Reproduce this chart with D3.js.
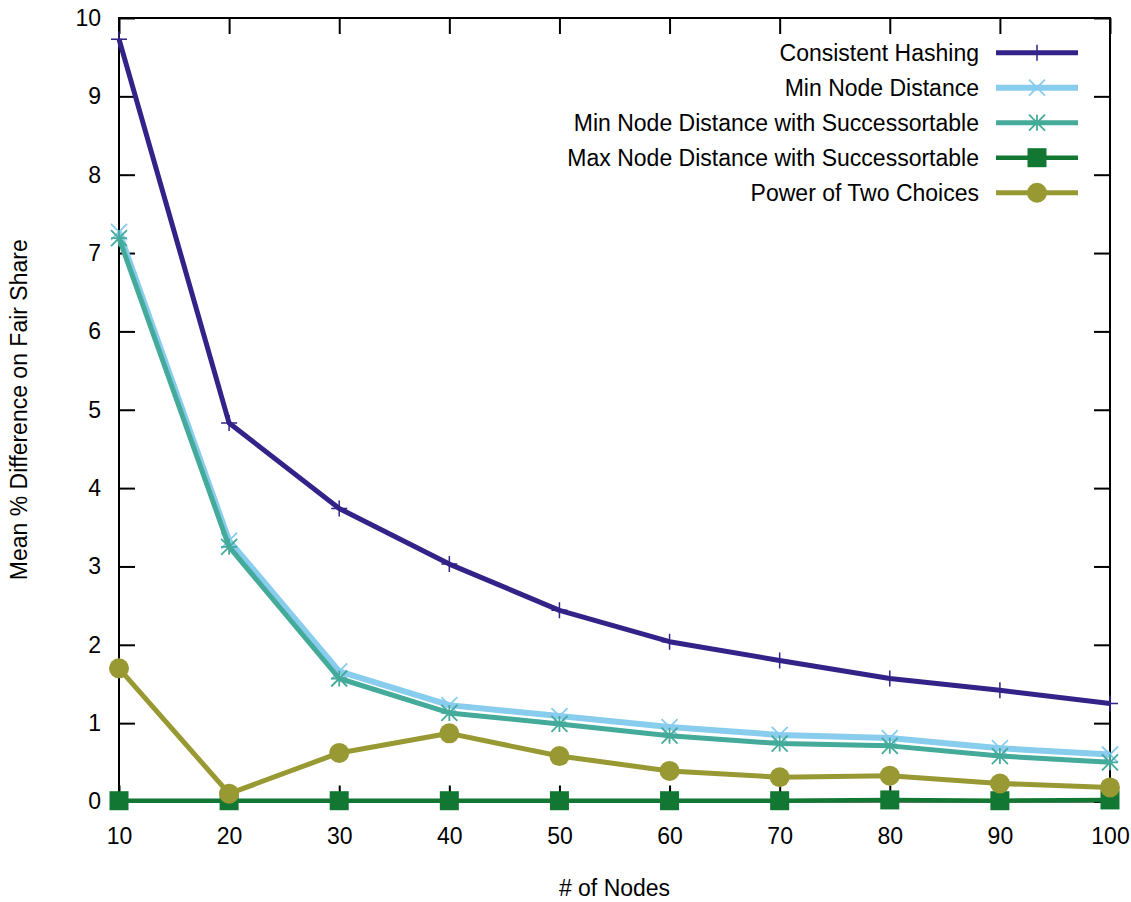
<html>
<head>
<script src="https://d3js.org/d3.v7.min.js"></script>
<style>
body { margin: 0; background: white; }
text { font-family: "Liberation Sans", Arial, sans-serif; font-size: 23px; fill: #000; }
</style>
</head>
<body>
<svg width="1131" height="902"></svg>
<script>
// data
const nodes = [10, 20, 30, 40, 50, 60, 70, 80, 90, 100];
const consistentHashing = [9.73, 4.83, 3.74, 3.03, 2.44, 2.04, 1.80, 1.57, 1.42, 1.25];
const minNodeDistance = [7.27, 3.33, 1.66, 1.23, 1.09, 0.95, 0.85, 0.81, 0.68, 0.60];
const minNodeSucc = [7.19, 3.25, 1.57, 1.13, 0.99, 0.84, 0.74, 0.71, 0.58, 0.50];
const maxNodeSucc = [0.01, 0.01, 0.01, 0.01, 0.01, 0.01, 0.01, 0.02, 0.01, 0.02];
const powerOfTwo = [1.70, 0.10, 0.62, 0.87, 0.58, 0.39, 0.31, 0.33, 0.23, 0.18];
const yTicks = [0, 1, 2, 3, 4, 5, 6, 7, 8, 9, 10];

const series = [
  {name: "Consistent Hashing", values: consistentHashing, color: "#332288", marker: "plus", width: 5},
  {name: "Min Node Distance", values: minNodeDistance, color: "#88ccee", marker: "cross", width: 6},
  {name: "Min Node Distance with Successortable", values: minNodeSucc, color: "#44aa99", marker: "star", width: 5},
  {name: "Max Node Distance with Successortable", values: maxNodeSucc, color: "#117733", marker: "square", width: 4.5},
  {name: "Power of Two Choices", values: powerOfTwo, color: "#999933", marker: "circle", width: 5}
];

const plotLeft = 119, plotRight = 1110, plotTop = 18, plotBottom = 801.5;
const svg = d3.select("svg");
const x = d3.scaleLinear().domain([10, 100]).range([plotLeft, plotRight]);
const y = d3.scaleLinear().domain([0, 10]).range([plotBottom, plotTop]);

// axes with inward ticks, mirrored
function styleAxis(g) {
  g.select(".domain").remove();
  g.selectAll(".tick line").attr("stroke", "#000").attr("stroke-width", 2);
  g.selectAll(".tick text").style("font-size", "23px");
}
svg.append("g").attr("transform", "translate(" + plotLeft + ",0)")
  .call(d3.axisLeft(y).tickValues(yTicks).tickSizeInner(-16).tickPadding(18).tickFormat(d3.format("d")))
  .call(styleAxis);
svg.append("g").attr("transform", "translate(" + plotRight + ",0)")
  .call(d3.axisRight(y).tickValues(yTicks).tickSizeInner(-16).tickFormat(""))
  .call(styleAxis);
svg.append("g").attr("transform", "translate(0," + plotBottom + ")")
  .call(d3.axisBottom(x).tickValues(nodes).tickSizeInner(-16).tickPadding(26).tickFormat(d3.format("d")))
  .call(styleAxis);
svg.append("g").attr("transform", "translate(0," + plotTop + ")")
  .call(d3.axisTop(x).tickValues(nodes).tickSizeInner(-16).tickFormat(""))
  .call(styleAxis);

svg.append("rect")
  .attr("x", plotLeft).attr("y", plotTop)
  .attr("width", plotRight - plotLeft).attr("height", plotBottom - plotTop)
  .attr("fill", "none").attr("stroke", "#000").attr("stroke-width", 2);

svg.append("text").attr("x", (plotLeft + plotRight) / 2).attr("y", 896)
  .attr("text-anchor", "middle").text("# of Nodes");
svg.append("text")
  .attr("transform", "translate(27," + ((plotTop + plotBottom) / 2) + ") rotate(-90)")
  .attr("text-anchor", "middle").text("Mean % Difference on Fair Share");

function drawMarker(g, type, cx, cy, color) {
  const s = 8;
  if (type === "plus") {
    g.append("path").attr("d", "M" + (cx - s) + "," + cy + "H" + (cx + s) + "M" + cx + "," + (cy - s) + "V" + (cy + s))
      .attr("stroke", color).attr("stroke-width", 1.5).attr("fill", "none");
  } else if (type === "cross") {
    g.append("path").attr("d", "M" + (cx - s) + "," + (cy - s) + "L" + (cx + s) + "," + (cy + s) + "M" + (cx - s) + "," + (cy + s) + "L" + (cx + s) + "," + (cy - s))
      .attr("stroke", color).attr("stroke-width", 1.8).attr("fill", "none");
  } else if (type === "star") {
    g.append("path").attr("d", "M" + (cx - s) + "," + cy + "H" + (cx + s) + "M" + cx + "," + (cy - s) + "V" + (cy + s) +
        "M" + (cx - s) + "," + (cy - s) + "L" + (cx + s) + "," + (cy + s) + "M" + (cx - s) + "," + (cy + s) + "L" + (cx + s) + "," + (cy - s))
      .attr("stroke", color).attr("stroke-width", 1.8).attr("fill", "none");
  } else if (type === "square") {
    g.append("rect").attr("x", cx - 9.5).attr("y", cy - 9.5).attr("width", 19).attr("height", 19).attr("fill", color);
  } else {
    g.append("circle").attr("cx", cx).attr("cy", cy).attr("r", 10).attr("fill", color);
  }
}

const line = d3.line().x((d, i) => x(nodes[i])).y(d => y(d));

series.forEach(function(s) {
  const g = svg.append("g");
  g.append("path").datum(s.values).attr("d", line)
    .attr("fill", "none").attr("stroke", s.color).attr("stroke-width", s.width)
    .attr("stroke-linejoin", "round");
  s.values.forEach(function(v, i) { drawMarker(g, s.marker, x(nodes[i]), y(v), s.color); });
});

// legend
const legend = svg.append("g");
series.forEach(function(s, i) {
  const ly = 52.7 + i * 35;
  legend.append("text").attr("x", 979).attr("y", ly).attr("dy", "0.35em")
    .attr("text-anchor", "end").text(s.name);
  legend.append("line").attr("x1", 996).attr("x2", 1078).attr("y1", ly).attr("y2", ly)
    .attr("stroke", s.color).attr("stroke-width", s.width);
  drawMarker(legend, s.marker, 1037, ly, s.color);
});
</script>
</body>
</html>
